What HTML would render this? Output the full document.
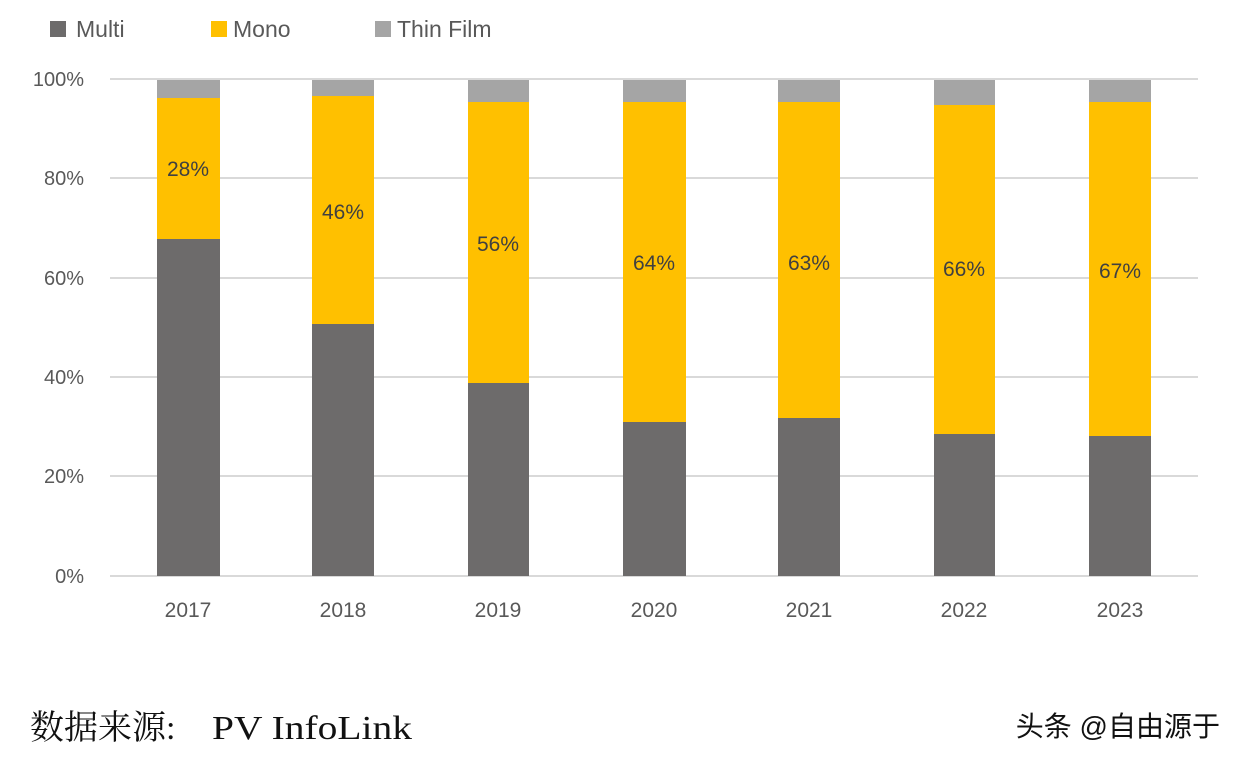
<!DOCTYPE html>
<html><head><meta charset="utf-8"><style>
html,body{margin:0;padding:0;background:#fff;width:1242px;height:765px;overflow:hidden}
svg{display:block}
</style></head><body>
<svg width="1242" height="765" xmlns="http://www.w3.org/2000/svg" font-family="Liberation Sans, sans-serif">
<rect width="1242" height="765" fill="#fff"/>
<rect x="50" y="21" width="16" height="16" fill="#6d6b6b"/>
<text x="76" y="37" font-size="23" fill="#595959">Multi</text>
<rect x="211" y="21" width="16" height="16" fill="#ffc000"/>
<text x="233" y="37" font-size="23" fill="#595959">Mono</text>
<rect x="375" y="21" width="16" height="16" fill="#a5a5a5"/>
<text x="397" y="37" font-size="23" fill="#595959">Thin Film</text>
<g stroke="#d9d9d9" stroke-width="2">
<line x1="110" y1="79" x2="1198" y2="79"/>
<line x1="110" y1="178" x2="1198" y2="178"/>
<line x1="110" y1="278" x2="1198" y2="278"/>
<line x1="110" y1="377" x2="1198" y2="377"/>
<line x1="110" y1="476" x2="1198" y2="476"/>
<line x1="110" y1="576" x2="1198" y2="576"/>
</g>
<g font-size="20" fill="#595959" text-anchor="end">
<text x="84" y="86">100%</text>
<text x="84" y="185">80%</text>
<text x="84" y="285">60%</text>
<text x="84" y="384">40%</text>
<text x="84" y="483">20%</text>
<text x="84" y="583">0%</text>
</g>
<g>
<rect x="157" y="80" width="63" height="496" fill="#a5a5a5"/><rect x="157" y="98" width="63" height="141" fill="#ffc000"/><rect x="157" y="239" width="63" height="337" fill="#6d6b6b"/>
<rect x="312" y="80" width="62" height="496" fill="#a5a5a5"/><rect x="312" y="96" width="62" height="228" fill="#ffc000"/><rect x="312" y="324" width="62" height="252" fill="#6d6b6b"/>
<rect x="468" y="80" width="61" height="496" fill="#a5a5a5"/><rect x="468" y="102" width="61" height="281" fill="#ffc000"/><rect x="468" y="383" width="61" height="193" fill="#6d6b6b"/>
<rect x="623" y="80" width="63" height="496" fill="#a5a5a5"/><rect x="623" y="102" width="63" height="320" fill="#ffc000"/><rect x="623" y="422" width="63" height="154" fill="#6d6b6b"/>
<rect x="778" y="80" width="62" height="496" fill="#a5a5a5"/><rect x="778" y="102" width="62" height="316" fill="#ffc000"/><rect x="778" y="418" width="62" height="158" fill="#6d6b6b"/>
<rect x="934" y="80" width="61" height="496" fill="#a5a5a5"/><rect x="934" y="105" width="61" height="329" fill="#ffc000"/><rect x="934" y="434" width="61" height="142" fill="#6d6b6b"/>
<rect x="1089" y="80" width="62" height="496" fill="#a5a5a5"/><rect x="1089" y="102" width="62" height="334" fill="#ffc000"/><rect x="1089" y="436" width="62" height="140" fill="#6d6b6b"/>
</g>
<g font-size="21" fill="#404040" text-anchor="middle">
<text x="188" y="176">28%</text>
<text x="343" y="219">46%</text>
<text x="498" y="251">56%</text>
<text x="654" y="270">64%</text>
<text x="809" y="270">63%</text>
<text x="964" y="276">66%</text>
<text x="1120" y="278">67%</text>
</g>
<g font-size="21" fill="#595959" text-anchor="middle">
<text x="188" y="617">2017</text>
<text x="343" y="617">2018</text>
<text x="498" y="617">2019</text>
<text x="654" y="617">2020</text>
<text x="809" y="617">2021</text>
<text x="964" y="617">2022</text>
<text x="1120" y="617">2023</text>
</g>
<text x="30" y="739" font-size="34" fill="#111" font-family="Liberation Serif, Noto Serif CJK SC, serif"><tspan>数据来源:</tspan><tspan x="212" textLength="200" lengthAdjust="spacingAndGlyphs">PV InfoLink</tspan></text>
<text x="1220" y="736" font-size="28" fill="#111" text-anchor="end" font-family="Liberation Sans, Noto Sans CJK SC, sans-serif">头条 @自由源于</text>
</svg>
</body></html>
